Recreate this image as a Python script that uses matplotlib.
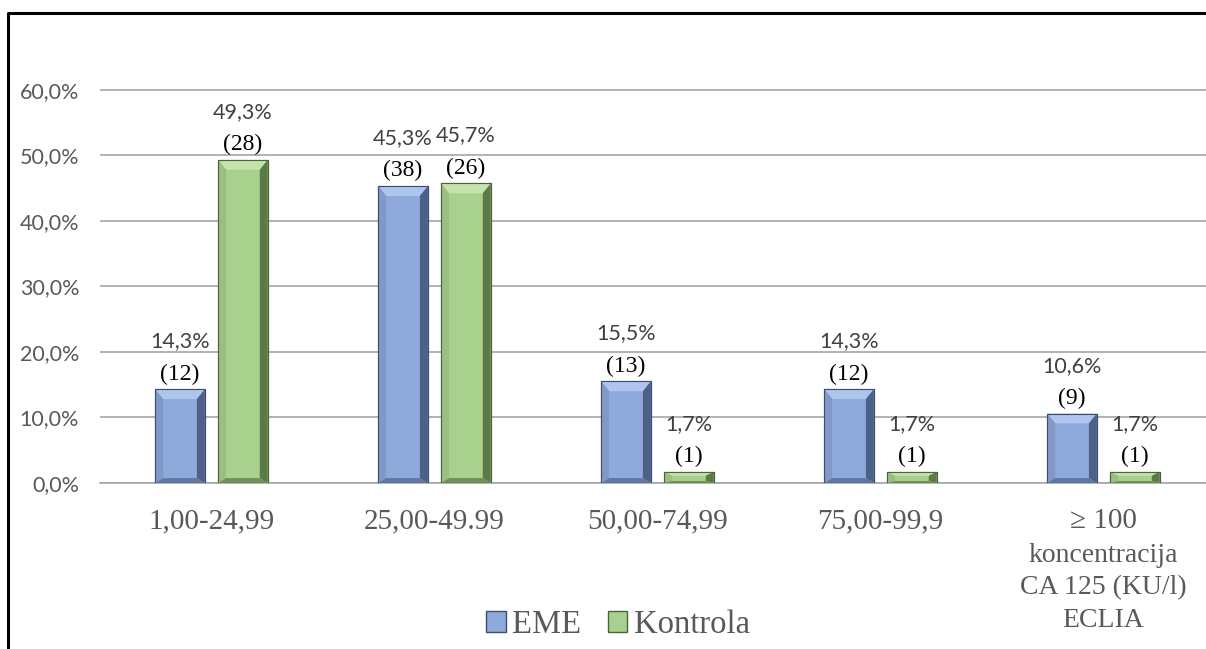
import matplotlib.pyplot as plt
import numpy as np
from matplotlib.lines import Line2D
from matplotlib.patches import Patch, Polygon

# data
categories = ['1,00-24,99', '25,00-49.99', '50,00-74,99', '75,00-99,9', '\u2265 100']
eme_pct = [14.3, 45.3, 15.5, 14.3, 10.6]
eme_n = [12, 38, 13, 12, 9]
kon_pct = [49.3, 45.7, 1.7, 1.7, 1.7]
kon_n = [28, 26, 1, 1, 1]
y_ticks = [0, 10, 20, 30, 40, 50, 60]
axis_title = 'koncentracija\nCA 125 (KU/l)\nECLIA'

W, H = 1206, 649
fig = plt.figure(figsize=(W / 100, H / 100), dpi=100)
ax = fig.add_axes([100 / W, 1 - 483 / H, 1115 / W, (483 - 57) / H])

x = np.arange(len(categories))
bw = 0.222
off = 0.141
# face, top, left, right, bottom, edge
blue = ['#8eaadc', '#aec5ee', '#8199c6', '#4d6088', '#62779f', '#3c4d6e']
green = ['#a9d18e', '#c4e4ad', '#9abf80', '#5c7a48', '#708f5b', '#4a6338']


def bevel_bars(xs, vals, cols):
    bars = ax.bar(xs, vals, bw, color=cols[0], edgecolor=cols[5], linewidth=0.8, zorder=3)
    for b in bars:
        x0, y0 = b.get_x(), b.get_y()
        x1, y1 = x0 + b.get_width(), y0 + b.get_height()
        dx = 0.16 * b.get_width()
        dy = min(1.5, 0.35 * b.get_height())
        pts = {
            'top': [(x0, y1), (x1, y1), (x1 - dx, y1 - dy), (x0 + dx, y1 - dy)],
            'left': [(x0, y0), (x0, y1), (x0 + dx, y1 - dy), (x0 + dx, y0 + dy * 0.5)],
            'right': [(x1, y0), (x1, y1), (x1 - dx, y1 - dy), (x1 - dx, y0 + dy * 0.5)],
            'bottom': [(x0, y0), (x1, y0), (x1 - dx, y0 + dy * 0.5), (x0 + dx, y0 + dy * 0.5)],
        }
        for k, c in zip(['top', 'left', 'right', 'bottom'], cols[1:5]):
            ax.add_patch(Polygon(pts[k], closed=True, facecolor=c, edgecolor='none', zorder=4))
        ax.add_patch(Polygon([(x0, y0), (x1, y0), (x1, y1), (x0, y1)], closed=True,
                             facecolor='none', edgecolor=cols[5], linewidth=0.8, zorder=5))
    return bars


bevel_bars(x - off, eme_pct, blue)
bevel_bars(x + off, kon_pct, green)

serif = 'Liberation Serif'
sans = 'Lato'
for xs, vals, ns in [(x - off, eme_pct, eme_n), (x + off, kon_pct, kon_n)]:
    for xi, v, n in zip(xs, vals, ns):
        ax.annotate(f'({n})', (xi, v), xytext=(0, 11), textcoords='offset points',
                    ha='center', va='center', fontsize=17, family=serif, color='black')
        ax.annotate(f'{v:.1f}%'.replace('.', ','), (xi, v), xytext=(0, 34.5), textcoords='offset points',
                    ha='center', va='center', fontsize=15.5, family=sans, color='#404040')

ax.set_xlim(-0.5, len(categories) - 0.5)
ax.set_ylim(0, 65)
ax.set_yticks(y_ticks)
ax.set_yticklabels([f'{t:.1f}%'.replace('.', ',') for t in y_ticks], fontsize=15.5, family=sans, color='#595959')
ax.set_xticks(x)
ax.set_xticklabels(categories, fontsize=21, family=serif, color='#595959')
ax.tick_params(axis='both', length=0)
ax.tick_params(axis='y', pad=15)
ax.tick_params(axis='x', pad=18)
ax.grid(axis='y', color='#a6a6a6', linewidth=1.2, zorder=0)
for s in ['left', 'right', 'top']:
    ax.spines[s].set_visible(False)
ax.spines['bottom'].set_color('#a6a6a6')
ax.spines['bottom'].set_linewidth(1.2)

ax.annotate(axis_title, (x[-1], 0), xytext=(0, -43), textcoords='offset points',
            ha='center', va='top', fontsize=20, family=serif, color='#595959', linespacing=1.4)

handles = [Patch(facecolor=blue[0], edgecolor=blue[5]), Patch(facecolor=green[0], edgecolor=green[5])]
fig.legend(handles, ['EME', 'Kontrola'], loc='center', bbox_to_anchor=(618 / W, 1 - 625 / H),
           ncol=2, frameon=False, prop={'family': serif, 'size': 23.5}, labelcolor='#595959',
           handlelength=0.6, handleheight=0.6, handletextpad=0.2, columnspacing=0.8,
           borderpad=0, borderaxespad=0)

# outer frame (left and top only, as in the reference)
fig.add_artist(Line2D([8 / W, 8 / W, 1], [0, 1 - 13 / H, 1 - 13 / H], color='black', linewidth=2.2))

fig.savefig('out.png', dpi=100)
